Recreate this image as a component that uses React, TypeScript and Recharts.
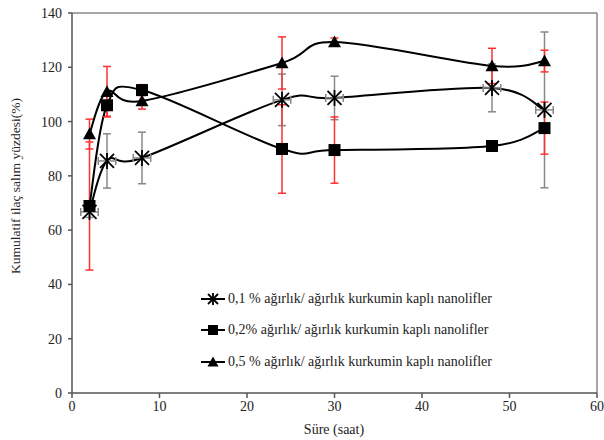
import React from "react";
import {
  ComposedChart,
  Line,
  Scatter,
  XAxis,
  YAxis,
  ErrorBar,
  ReferenceLine,
} from "recharts";

const hours = [2, 4, 8, 24, 30, 48, 54];

const s01 = [66.7, 85.5, 86.6, 108, 108.7, 112.4, 104.3];
const s01Err = [2, 10, 9.5, 9.5, 8, 8.8, 28.7];
const s01ErrX = [1, 1, 1, 1, 1, 1, 1];

const s02 = [68.9, 106, 111.6, 89.9, 89.5, 91, 97.6];
const s02Err = [23.6, 4, 2, 16.3, 12.2, 1.5, 9.6];

const s05 = [95.4, 111, 107.6, 121.6, 129.3, 120.5, 122.3];
const s05Err = [5.5, 9.3, 3, 9.6, 1.5, 6.5, 4];

const xTicks = [0, 10, 20, 30, 40, 50, 60];
const yTicks = [0, 20, 40, 60, 80, 100, 120, 140];

const legendLabels = [
  "0,1 % ağırlık/ ağırlık kurkumin kaplı nanolifler",
  "0,2% ağırlık/ ağırlık kurkumin kaplı nanolifler",
  "0,5 % ağırlık/ ağırlık kurkumin kaplı nanolifler",
];

const data = hours.map((t, i) => ({
  t,
  s01: s01[i],
  s01Err: s01Err[i],
  s01ErrX: s01ErrX[i],
  s02: s02[i],
  s02Err: s02Err[i],
  s05: s05[i],
  s05Err: s05Err[i],
}));

const FONT = '"Liberation Serif", "Times New Roman", serif';

// Excel-like smoothed line (Catmull-Rom in pixel space)
const excelCurve = (context: any) => {
  let pts: number[][] = [];
  return {
    areaStart() {},
    areaEnd() {},
    lineStart() {
      pts = [];
    },
    point(x: number, y: number) {
      pts.push([+x, +y]);
    },
    lineEnd() {
      if (!pts.length) return;
      context.moveTo(pts[0][0], pts[0][1]);
      for (let i = 0; i < pts.length - 1; i++) {
        const p0 = pts[i - 1] || pts[i];
        const p1 = pts[i];
        const p2 = pts[i + 1];
        const p3 = pts[i + 2] || p2;
        context.bezierCurveTo(
          p1[0] + (p2[0] - p0[0]) / 6,
          p1[1] + (p2[1] - p0[1]) / 6,
          p2[0] - (p3[0] - p1[0]) / 6,
          p2[1] - (p3[1] - p1[1]) / 6,
          p2[0],
          p2[1]
        );
      }
    },
  };
};

const Star = ({ cx, cy, s = 7 }: any) => (
  <g stroke="#000" strokeWidth={1.8}>
    <line x1={cx - s} y1={cy - s} x2={cx + s} y2={cy + s} />
    <line x1={cx - s} y1={cy + s} x2={cx + s} y2={cy - s} />
    <line x1={cx} y1={cy - s - 1} x2={cx} y2={cy + s + 1} />
  </g>
);

const Square = ({ cx, cy, s = 6 }: any) => (
  <rect x={cx - s} y={cy - s} width={s * 2} height={s * 2} fill="#000" />
);

const Tri = ({ cx, cy, s = 6.5 }: any) => (
  <polygon
    points={`${cx},${cy - s} ${cx + s},${cy + s * 0.8} ${cx - s},${cy + s * 0.8}`}
    fill="#000"
  />
);

const StarDot = (p: any) => <Star key={p.index} cx={p.cx} cy={p.cy} />;
const SquareDot = (p: any) => <Square key={p.index} cx={p.cx} cy={p.cy} />;
const TriDot = (p: any) => <Tri key={p.index} cx={p.cx} cy={p.cy} />;

const legendIcons = [
  (cx: number, cy: number) => <Star cx={cx} cy={cy} s={5} />,
  (cx: number, cy: number) => <Square cx={cx} cy={cy} s={5} />,
  (cx: number, cy: number) => <Tri cx={cx} cy={cy} s={5.5} />,
];

const YLabel = () => {
  const x = 15;
  const y = 186;
  return (
    <text
      x={x}
      y={y}
      transform={`rotate(-90 ${x} ${y})`}
      textAnchor="middle"
      dominantBaseline="central"
      fontFamily={FONT}
      fontSize={13.5}
      fill="#222"
    >
      Kumulatif ilaç salım yüzdesi(%)
    </text>
  );
};

const XLabel = () => (
  <text
    x={334}
    y={429}
    textAnchor="middle"
    dominantBaseline="central"
    fontFamily={FONT}
    fontSize={14}
    fill="#222"
  >
    Süre (saat)
  </text>
);

export default function App() {
  return (
    <div style={{ position: "absolute", left: 0, top: 0, width: 604, height: 440, background: "#fff" }}>
      <ComposedChart
        width={604}
        height={440}
        data={data}
        margin={{ top: 13, right: 7, bottom: 0, left: 0 }}
      >
        <XAxis
          type="number"
          dataKey="t"
          domain={[0, 60]}
          ticks={xTicks}
          tickSize={5}
          tickMargin={3}
          stroke="#555"
          strokeWidth={1.5}
          height={47}
          tick={{ fontFamily: FONT, fontSize: 14, fill: "#222" }}
          label={<XLabel />}
        />
        <YAxis
          type="number"
          domain={[0, 140]}
          ticks={yTicks}
          tickSize={4}
          tickMargin={6}
          stroke="#555"
          strokeWidth={1.5}
          width={72}
          tick={{ fontFamily: FONT, fontSize: 14, fill: "#222" }}
          label={<YLabel />}
        />
        <ReferenceLine y={140} stroke="#888" strokeWidth={1.5} />
        <ReferenceLine x={60} stroke="#888" strokeWidth={1.5} />

        <Line
          dataKey="s01"
          type={excelCurve as any}
          stroke="#000"
          strokeWidth={2}
          dot={StarDot}
          activeDot={false}
          isAnimationActive={false}
        >
          <ErrorBar dataKey="s01Err" stroke="#888" strokeWidth={1.5} width={4} />
        </Line>
        <Scatter
          dataKey="s01"
          fill="none"
          shape={() => null}
          isAnimationActive={false}
        >
          <ErrorBar dataKey="s01ErrX" direction="x" stroke="#888" strokeWidth={1.5} width={4} />
        </Scatter>
        <Line
          dataKey="s02"
          type={excelCurve as any}
          stroke="#000"
          strokeWidth={2}
          dot={SquareDot}
          activeDot={false}
          isAnimationActive={false}
        >
          <ErrorBar dataKey="s02Err" stroke="#ff3030" strokeWidth={1.5} width={4} />
        </Line>
        <Line
          dataKey="s05"
          type={excelCurve as any}
          stroke="#000"
          strokeWidth={2}
          dot={TriDot}
          activeDot={false}
          isAnimationActive={false}
        >
          <ErrorBar dataKey="s05Err" stroke="#ff3030" strokeWidth={1.5} width={4} />
        </Line>
      </ComposedChart>

      <div style={{ position: "absolute", left: 200, top: 283, fontFamily: FONT, fontSize: 14, color: "#222" }}>
        {legendLabels.map((label, i) => (
          <div key={label} style={{ display: "flex", alignItems: "center", height: 31.5 }}>
            <svg width={26} height={14} style={{ marginRight: 2 }}>
              <line x1={1} y1={7} x2={25} y2={7} stroke="#000" strokeWidth={2} />
              {legendIcons[i](13, 7)}
            </svg>
            <span>{label}</span>
          </div>
        ))}
      </div>
    </div>
  );
}
